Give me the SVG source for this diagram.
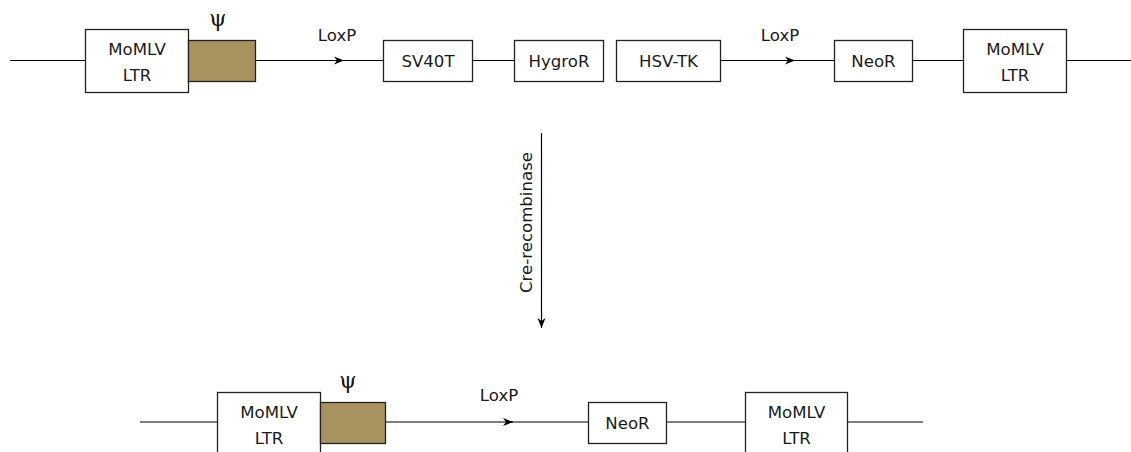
<svg xmlns="http://www.w3.org/2000/svg" width="1131" height="452" viewBox="0 0 1131 452">
<style>
.box{fill:#fff;stroke:#222;stroke-width:1.3}
.brown{fill:#a8925f;stroke:#222;stroke-width:1.3}
.ln{stroke:#000;stroke-width:1.2;fill:none}
.t{font-family:"DejaVu Sans",sans-serif;font-size:16.6px;fill:#1a1a1a;text-anchor:middle}
.psi{font-family:"DejaVu Serif",serif;font-size:22px;fill:#111;text-anchor:middle}
</style>
<defs>
<marker id="ah" viewBox="0 0 10 10" refX="10" refY="5" markerWidth="10" markerHeight="10" markerUnits="userSpaceOnUse" orient="auto">
<path d="M0,1 L10,5 L0,9 L3,5 Z" fill="#000"/>
</marker>
</defs>
<g id="connectors">
<line class="ln" x1="10" y1="60.5" x2="85" y2="60.5"/>
<line class="ln" x1="256" y1="60.5" x2="344" y2="60.5" marker-end="url(#ah)"/>
<line class="ln" x1="340" y1="60.5" x2="383" y2="60.5"/>
<line class="ln" x1="473" y1="60.5" x2="514" y2="60.5"/>
<line class="ln" x1="721" y1="60.5" x2="795" y2="60.5" marker-end="url(#ah)"/>
<line class="ln" x1="790" y1="60.5" x2="834" y2="60.5"/>
<line class="ln" x1="913" y1="60.5" x2="963" y2="60.5"/>
<line class="ln" x1="1067" y1="60.5" x2="1131" y2="60.5"/>
<line class="ln" x1="541.5" y1="133" x2="541.5" y2="328" marker-end="url(#ah)"/>
<line class="ln" x1="140" y1="422" x2="217" y2="422"/>
<line class="ln" x1="386" y1="422" x2="513" y2="422" marker-end="url(#ah)"/>
<line class="ln" x1="508" y1="422" x2="588" y2="422"/>
<line class="ln" x1="667" y1="422" x2="745" y2="422"/>
<line class="ln" x1="848" y1="422" x2="923" y2="422"/>
</g>
<g id="top-ltr-left"><rect class="box" x="85.5" y="29.5" width="103" height="63"/><text class="t" x="137" y="54.5">MoMLV</text><text class="t" x="137" y="80.5">LTR</text></g>
<g id="top-psi"><rect class="brown" x="188.5" y="40.5" width="67" height="41"/><text class="psi" x="218" y="26">ψ</text></g>
<g id="top-loxp1"><text class="t" x="337" y="41">LoxP</text></g>
<g id="sv40t"><rect class="box" x="383.5" y="40.5" width="89" height="41"/><text class="t" x="428" y="66.5">SV40T</text></g>
<g id="hygror"><rect class="box" x="514.5" y="40.5" width="89" height="41"/><text class="t" x="559" y="66.5">HygroR</text></g>
<g id="hsvtk"><rect class="box" x="616.5" y="40.5" width="104" height="41"/><text class="t" x="668.5" y="66.5">HSV-TK</text></g>
<g id="top-loxp2"><text class="t" x="780" y="41">LoxP</text></g>
<g id="top-neor"><rect class="box" x="834.5" y="40.5" width="78" height="41"/><text class="t" x="873.5" y="66.5">NeoR</text></g>
<g id="top-ltr-right"><rect class="box" x="963.5" y="29.5" width="103" height="63"/><text class="t" x="1015" y="54.5">MoMLV</text><text class="t" x="1015" y="80.5">LTR</text></g>
<g id="cre"><text class="t" transform="translate(532,222.5) rotate(-90)" x="0" y="0">Cre-recombinase</text></g>
<g id="bot-ltr-left"><rect class="box" x="217.5" y="392.5" width="103" height="63"/><text class="t" x="269" y="417.5">MoMLV</text><text class="t" x="269" y="443.5">LTR</text></g>
<g id="bot-psi"><rect class="brown" x="320.5" y="402.5" width="65" height="41"/><text class="psi" x="348" y="388">ψ</text></g>
<g id="bot-loxp"><text class="t" x="499" y="401">LoxP</text></g>
<g id="bot-neor"><rect class="box" x="588.5" y="402.5" width="78" height="41"/><text class="t" x="627.5" y="428.5">NeoR</text></g>
<g id="bot-ltr-right"><rect class="box" x="745.5" y="392.5" width="102" height="63"/><text class="t" x="796.5" y="417.5">MoMLV</text><text class="t" x="796.5" y="443.5">LTR</text></g>
</svg>
